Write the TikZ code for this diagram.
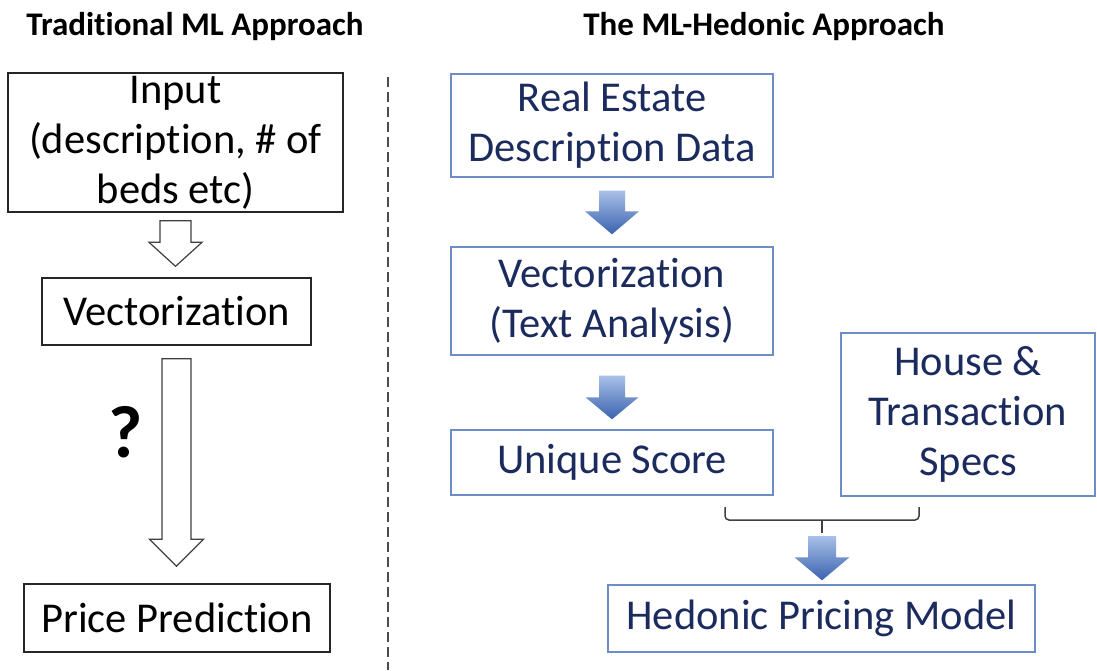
\documentclass[tikz,border=0pt]{standalone}
\usepackage{fontspec}
\setmainfont{Carlito}[Ligatures=NoCommon]
\usetikzlibrary{calc}
\definecolor{navy}{HTML}{1C2B5E}
\definecolor{boxblue}{HTML}{6C8DC8}
\definecolor{arrtop}{HTML}{A9C0E8}
\definecolor{arrbot}{HTML}{3A62AE}
\tikzset{
  lbox/.style={draw=black!85, line width=1.4pt, align=center, inner sep=0pt,
    font=\fontsize{42.5}{50}\selectfont},
  rbox/.style={draw=boxblue, line width=1.4pt, align=center, inner sep=0pt,
    text=navy, font=\fontsize{42.5}{50}\selectfont},
  title/.style={font=\bfseries\fontsize{33}{40}\selectfont},
  hollow/.style={draw=black!75, line width=1.2pt, fill=white, line join=miter},
  bluearr/.style={top color=arrtop, bottom color=arrbot},
  bracket/.style={draw=black!75, line width=1.5pt, rounded corners=4pt},
  divider/.style={draw=black!70, line width=1.2pt, dash pattern=on 10pt off 5pt},
}
% #1 style, #2 start point, #3 end point, #4 top gap, #5 bottom gap,
% #6 shaft half width, #7 head half width, #8 head length
\newcommand\blockarr[8]{%
  \path[#1] let \p1=#2, \p2=#3 in
    (\x1-#6pt,\y1-#4pt) -- (\x1+#6pt,\y1-#4pt) -- (\x1+#6pt,\y2+#5pt+#8pt)
    -- (\x1+#7pt,\y2+#5pt+#8pt) -- (\x1,\y2+#5pt) -- (\x1-#7pt,\y2+#5pt+#8pt)
    -- (\x1-#6pt,\y2+#5pt+#8pt) -- cycle;}
\begin{document}
\begin{tikzpicture}[x=1pt,y=-1pt]
\useasboundingbox (0,0) rectangle (1097,670);
\fill[white] (0,0) rectangle (1097,670);

% titles
\node[title] (tl) at (195,27) {Traditional ML Approach};
\node[title] (tr) at (764,27) {The ML-Hedonic Approach};

% divider
\coordinate (d1) at (388,77);
\coordinate (d2) at (388,670);
\draw[divider] (d1) -- (d2);

% left column
\node[lbox, minimum width=335pt, minimum height=139pt] (input) at (175.5,142.5)
  {Input\\(description, \# of\\beds etc)};
\node[lbox, minimum width=269pt, minimum height=67pt] (vec) at (176.5,311.5)
  {Vectorization};
\node[lbox, minimum width=306pt, minimum height=68pt] (price) at (177,618)
  {Price Prediction};
\blockarr{hollow}{(input.south)}{(vec.north)}{8}{11}{15.5}{26.5}{24}
\blockarr{hollow}{(vec.south)}{(price.north)}{13}{17}{14.5}{27}{27}
\node[font=\bfseries\fontsize{74}{78}\selectfont] (q) at (126,432) {?};

% right column
\node[rbox, minimum width=322pt, minimum height=103pt] (re) at (612,125.5)
  {Real Estate\\Description Data};
\node[rbox, minimum width=322pt, minimum height=108pt] (vta) at (612,301)
  {Vectorization\\(Text Analysis)};
\node[rbox, minimum width=322pt, minimum height=65pt] (uniq) at (612,462.5)
  {Unique Score};
\node[rbox, minimum width=254pt, minimum height=163pt] (house) at (968,414.5)
  {House \&\\Transaction\\Specs};
\node[rbox, minimum width=427pt, minimum height=67pt] (hed) at (821.5,618.5)
  {Hedonic Pricing Model};

\blockarr{bluearr}{(re.south)}{(vta.north)}{13}{12}{13}{27}{23}
\blockarr{bluearr}{(vta.south)}{(uniq.north)}{20}{10}{13}{26.5}{22}

% bracket joining the two inputs
\coordinate (bl) at (725,507);
\coordinate (br) at (919,507);
\coordinate (bm) at (822,520);
\coordinate (bs) at (822,533);
\draw[bracket] (bl) -- (bl |- bm) -- (br |- bm) -- (br);
\draw[bracket] (bm) -- (bs);
\blockarr{bluearr}{(bs)}{(hed.north)}{3}{4}{14}{27.5}{23}
\end{tikzpicture}
\end{document}
